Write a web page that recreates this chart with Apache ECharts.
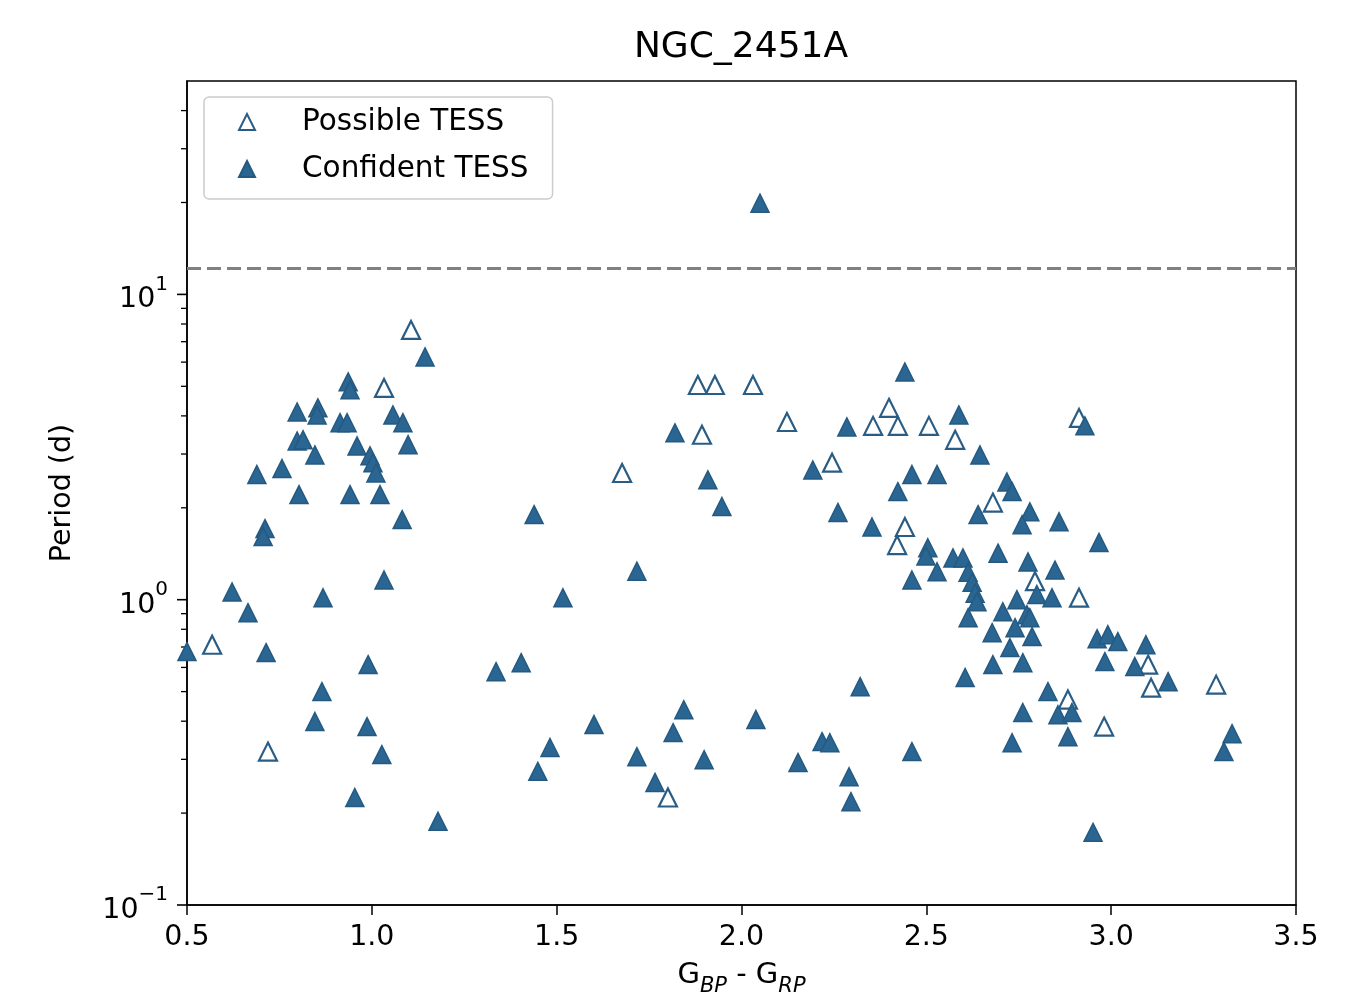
<!DOCTYPE html>
<html><head><meta charset="utf-8">
<script src="https://cdn.jsdelivr.net/npm/echarts@6/dist/echarts.min.js"></script>
<style>html,body{margin:0;padding:0;background:#fff}#c{width:1347px;height:1007px}</style>
</head><body><div id="c"></div>
<script>
// ---- data ----
const possibleColor  = [1.106,1.033,0.568,0.719,1.677,1.801,1.882,1.928,1.893,2.031,2.123,2.245,2.356,2.399,2.423,2.507,2.578,2.442,2.421,2.680,2.913,2.794,2.913,2.883,2.981,3.100,3.108,3.284];
const possiblePeriod = [7.65,4.94,0.712,0.318,2.60,0.225,5.05,5.05,3.47,5.05,3.82,2.81,3.71,4.25,3.71,3.71,3.34,1.73,1.51,2.08,3.94,1.15,1.015,0.471,0.384,0.613,0.515,0.527];

const confidentColor = [0.689,0.757,0.798,0.814,0.803,0.846,0.854,0.852,0.798,0.936,0.941,0.914,0.933,0.960,0.995,1.003,1.011,0.941,1.022,1.057,1.084,1.098,1.144,1.082,0.711,0.706,0.622,0.665,0.868,1.033,0.714,0.990,0.865,0.846,0.987,1.027,0.954,1.179,1.439,1.517,1.717,1.336,1.404,1.601,1.844,1.815,1.482,1.449,1.717,1.899,1.766,1.820,1.909,1.947,2.050,2.442,2.285,2.588,2.193,2.461,2.529,2.423,2.261,2.353,2.504,2.499,2.572,2.599,2.529,2.461,2.613,2.624,2.632,2.637,2.613,2.678,2.605,2.321,2.039,2.218,2.239,2.153,2.291,2.296,2.461,2.645,2.718,2.732,2.640,2.780,2.759,2.859,2.929,2.967,2.694,2.775,2.848,2.799,2.840,2.745,2.707,2.772,2.780,2.740,2.786,2.726,2.761,2.680,2.962,2.991,3.018,2.983,3.064,3.094,3.154,2.829,2.761,2.856,2.894,2.883,2.732,2.951,3.327,3.305,0.500];
const confidentPeriod = [2.57,2.69,3.31,3.34,2.21,2.98,4.25,4.03,4.12,5.17,4.87,3.80,3.80,3.19,2.96,2.81,2.60,2.21,2.21,4.03,3.80,3.22,6.24,1.83,1.71,1.61,1.06,0.907,1.015,1.16,0.671,0.613,0.500,0.399,0.384,0.311,0.225,0.188,1.90,1.015,1.24,0.581,0.622,0.390,0.436,0.367,0.328,0.274,0.306,0.299,0.252,3.52,2.47,2.02,19.9,5.57,3.68,4.03,2.66,2.57,2.57,2.26,1.93,1.73,1.48,1.39,1.37,1.37,1.235,1.16,1.23,1.14,1.05,0.985,0.873,0.780,0.556,0.519,0.405,0.343,0.340,0.293,0.263,0.218,0.318,2.98,2.43,2.26,1.90,1.94,1.76,1.80,3.71,1.54,1.42,1.33,1.25,1.04,1.015,1.00,0.913,0.893,0.873,0.810,0.757,0.697,0.622,0.613,0.745,0.768,0.729,0.627,0.604,0.712,0.539,0.500,0.427,0.420,0.427,0.356,0.340,0.173,0.364,0.318,0.676];

const xTicks = [0.5, 1.0, 1.5, 2.0, 2.5, 3.0, 3.5];
const yMajorTicks = [0.1, 1, 10];
const yMinorTicks = [0.2,0.3,0.4,0.5,0.6,0.7,0.8,0.9,2,3,4,5,6,7,8,9,20,30,40];
const yRange = [0.1, 50];
const thresholdPeriod = 12.2;
const seriesNames = ['Possible TESS', 'Confident TESS'];
const chartTitle = 'NGC_2451A';
// ----------------------------------------

const FONT = 'DejaVu Sans';
const BLUE = '#2b6692';
const EDGE = '#245a82';

function pairs(xs, ys) { return xs.map((x, i) => [x, ys[i]]); }
const supMap = {'-1': '\u22121', '0': '0', '1': '1'};

const chart = echarts.init(document.getElementById('c'), null, {renderer: 'canvas'});
chart.setOption({
  animation: false,
  backgroundColor: '#fff',
  title: {
    text: chartTitle, left: 736, top: 25, textAlign: 'center',
    textStyle: {fontFamily: FONT, fontSize: 36, fontWeight: 'normal', color: '#000'}
  },
  legend: {
    data: seriesNames,
    orient: 'vertical', left: 204, top: 97,
    itemWidth: 16, itemHeight: 16, itemGap: 17,
    padding: [10, 24, 15, 34],
    backgroundColor: 'rgba(255,255,255,0.8)',
    borderColor: '#cccccc', borderWidth: 1.5, borderRadius: 5,
    textStyle: {fontFamily: FONT, fontSize: 29.5, color: '#000', padding: [0, 0, 0, 42]}
  },
  grid: {left: 187, right: 51, top: 81, bottom: 102, show: true, borderColor: '#000', borderWidth: 1.5, backgroundColor: 'transparent'},
  xAxis: {
    type: 'value', min: xTicks[0], max: xTicks[xTicks.length - 1], interval: xTicks[1] - xTicks[0],
    axisLine: {show: true, lineStyle: {color: '#000', width: 1.5}},
    axisTick: {show: true, inside: false, length: 10, lineStyle: {color: '#000', width: 1.5}},
    splitLine: {show: false},
    axisLabel: {margin: 18, fontFamily: FONT, fontSize: 28.5, color: '#000', formatter: v => v.toFixed(1)},
    name: '{n|G}{s|BP}{n| - G}{s|RP}', nameLocation: 'middle', nameGap: 56,
    nameTextStyle: {
      fontFamily: FONT, fontSize: 29, color: '#000',
      rich: {
        n: {fontFamily: FONT, fontSize: 29, color: '#000', lineHeight: 36, verticalAlign: 'top'},
        s: {fontFamily: FONT, fontSize: 21, fontStyle: 'italic', color: '#000', lineHeight: 36, verticalAlign: 'bottom'}
      }
    }
  },
  yAxis: {
    type: 'log', logBase: 10, min: yRange[0], max: yRange[1],
    axisLine: {show: true, lineStyle: {color: '#000', width: 1.5}},
    axisTick: {show: false},
    splitLine: {show: false},
    minorTick: {show: false},
    axisLabel: {
      margin: 19, fontFamily: FONT, fontSize: 28, color: '#000',
      formatter: v => {
        const e = Math.log10(v);
        if (Math.abs(e - Math.round(e)) > 1e-6) return '';
        const k = String(Math.round(e));
        if (!(k in supMap)) return '';
        return '{b|10}{s|' + supMap[k] + '}';
      },
      rich: {
        b: {fontFamily: FONT, fontSize: 28.5, color: '#000', lineHeight: 40, verticalAlign: 'bottom'},
        s: {fontFamily: FONT, fontSize: 20, color: '#000', lineHeight: 40, verticalAlign: 'top'}
      }
    },
    name: 'Period (d)', nameLocation: 'middle', nameGap: 110, nameRotate: 90,
    nameTextStyle: {fontFamily: FONT, fontSize: 28.5, color: '#000'}
  },
  series: [
    {
      name: 'yMajorTicks', type: 'scatter', silent: true, clip: false, z: 1,
      data: yMajorTicks.map(v => [xTicks[0], v]),
      symbol: 'rect', symbolSize: [10, 1.6], symbolOffset: [-5, 0],
      itemStyle: {color: '#000', opacity: 1}
    },
    {
      name: 'yMinorTicks', type: 'scatter', silent: true, clip: false, z: 1,
      data: yMinorTicks.map(v => [xTicks[0], v]),
      symbol: 'rect', symbolSize: [6, 1.3], symbolOffset: [-3, 0],
      itemStyle: {color: '#000', opacity: 1}
    },
    {
      name: seriesNames[0], type: 'scatter', z: 3,
      data: pairs(possibleColor, possiblePeriod),
      symbol: 'triangle', symbolSize: 18,
      itemStyle: {color: '#ffffff', borderColor: '#2a5d85', borderWidth: 2.2, opacity: 1},
      markLine: {
        silent: true, symbol: 'none', label: {show: false},
        lineStyle: {color: '#808080', type: [14, 6], width: 3},
        data: [{yAxis: thresholdPeriod}]
      }
    },
    {
      name: seriesNames[1], type: 'scatter', z: 4,
      data: pairs(confidentColor, confidentPeriod),
      symbol: 'triangle', symbolSize: 18,
      itemStyle: {color: BLUE, borderColor: EDGE, borderWidth: 1.5, opacity: 1}
    }
  ]
});
</script>
</body></html>
